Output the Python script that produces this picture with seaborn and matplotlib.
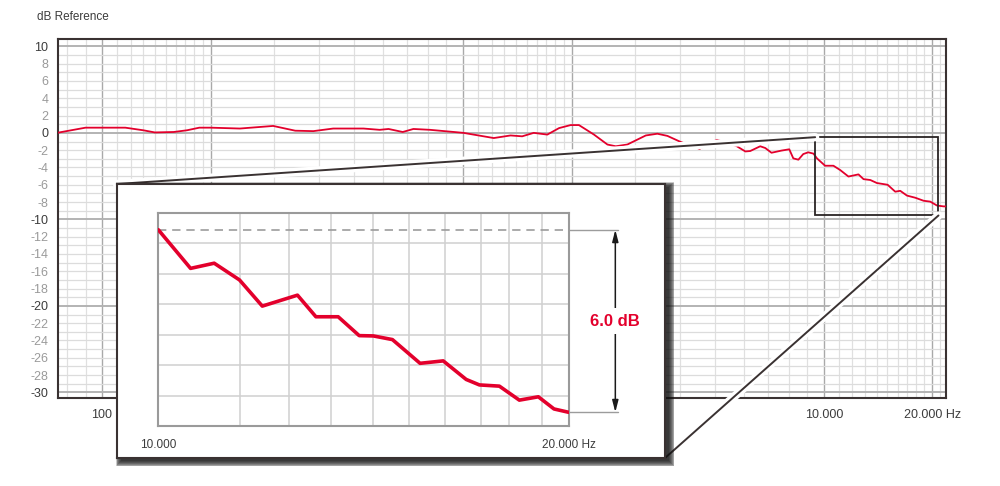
"""
Frequency response chart with a zoomed 10-20 kHz inset.
"""

import matplotlib
matplotlib.use("Agg")

import matplotlib.patheffects as pe
import matplotlib.pyplot as plt
import pandas as pd
import seaborn as sns
from matplotlib.patches import ConnectionPatch, Rectangle

RED = "#e3002c"
FRAME = "#3a3232"
DARK_TXT = "#3c3c3c"
LIGHT_TXT = "#9a9a9a"

# main response curve (Hz, dB)
main_hz = [75, 90, 100, 116, 130, 140, 158, 172, 186, 200, 241, 298, 343, 385, 437,
           530, 588, 622, 681, 729, 811, 1003, 1217, 1355, 1459, 1571, 1713, 1846,
           1988, 2096, 2307, 2514, 2651, 2854, 3211, 3457, 3685, 4011, 4524, 5054,
           5740, 6060, 6252, 6663, 6880, 7160, 7630, 8020, 8230, 8500, 8770, 9050,
           9360, 9570, 10080, 10630, 11100, 11700, 12470, 12880, 13450, 14030, 15020,
           15770, 16280, 16990, 17920, 18900, 19720, 20580, 21470, 21800]
main_db = [0.0, 0.6, 0.6, 0.6, 0.3, 0.05, 0.1, 0.3, 0.6, 0.6, 0.5, 0.8, 0.25, 0.2, 0.5,
           0.5, 0.35, 0.45, 0.1, 0.45, 0.35, 0.0, -0.6, -0.3, -0.4, 0.0, -0.2, 0.55,
           0.9, 0.9, -0.2, -1.35, -1.55, -1.35, -0.3, -0.1, -0.35, -1.05, -1.85, -0.8,
           -1.55, -2.15, -2.1, -1.55, -1.75, -2.3, -2.05, -1.9, -2.95, -3.1, -2.45, -2.25,
           -2.4, -2.95, -3.8, -3.8, -4.3, -5.05, -4.8, -5.35, -5.45, -5.8, -6.0,
           -6.8, -6.7, -7.25, -7.5, -7.85, -7.95, -8.4, -8.5, -8.5]

# zoomed 10-20 kHz detail (dB relative to inset top)
inset_hz = [10000, 10560, 10990, 11470, 11920, 12650, 13050, 13550, 14040, 14380,
            14850, 15560, 16180, 16820, 17200, 17790, 18400, 19000, 19510, 20000]
inset_db = [-0.55, -1.82, -1.65, -2.20, -3.06, -2.70, -3.41, -3.41, -4.03, -4.04,
            -4.16, -4.94, -4.86, -5.47, -5.65, -5.69, -6.15, -6.04, -6.44, -6.55]

# axes ticks / grid
y_ticks = list(range(-30, 11, 2))
y_grid = list(range(-30, 11))
x_major = [100, 200, 1000, 2000, 10000, 20000]
x_labels = {100: "100", 10000: "10.000", 20000: "20.000 Hz"}
x_minor = ([80, 90] + [110, 120, 130, 140, 150, 160, 170, 180, 190]
           + [300, 400, 500, 600, 700, 800, 900]
           + [1100, 1200, 1300, 1400, 1500, 1600, 1700, 1800, 1900]
           + [3000, 4000, 5000, 6000, 7000, 8000, 9000]
           + [11000, 12000, 13000, 14000, 15000, 16000, 17000, 18000, 19000, 21000])
inset_grid_hz = [11470, 12470, 13390, 14380, 15270, 16230, 17240, 18090, 19130]
inset_grid_db = [-1, -2, -3, -4, -5, -6]

zoom_box_hz = (9460, 20780)
zoom_box_db = (-9.55, -0.5)

W, H = 1000, 486

sns.set_style("white")
plt.rcParams["font.family"] = ["Liberation Sans", "DejaVu Sans"]


def fig_rect(left, top, right, bottom):
    """Pixel box -> figure fraction rect."""
    return [left / W, 1 - bottom / H, (right - left) / W, (bottom - top) / H]


fig = plt.figure(figsize=(W / 100, H / 100), dpi=100)

# ---------------- main chart ----------------
ax = fig.add_axes(fig_rect(58, 39, 946, 398), zorder=0)
ax.set_xscale("log")
ax.set_xlim(75.5, 21800)
ax.set_ylim(-30.65, 10.85)

for v in x_minor:
    ax.axvline(v, color="#e0e0e0", lw=0.9, zorder=0)
for v in x_major:
    ax.axvline(v, color="#a9a9a9", lw=1.0, zorder=0)
for v in y_grid:
    if v % 10 == 0:
        ax.axhline(v, color="#b3b3b3", lw=1.4, zorder=0)
    else:
        ax.axhline(v, color="#dcdcdc", lw=0.9, zorder=0)

main_df = pd.DataFrame({"hz": main_hz, "db": main_db})
sns.lineplot(data=main_df, x="hz", y="db", ax=ax, color=RED, lw=1.3, legend=False, zorder=3)

ax.set_xticks(x_major, [x_labels.get(v, "") for v in x_major])
ax.set_xticks([], minor=True)
ax.set_yticks(y_ticks, [str(v) for v in y_ticks])
for lbl, v in zip(ax.get_yticklabels(), y_ticks):
    lbl.set_color(DARK_TXT if v % 10 == 0 else LIGHT_TXT)
ax.tick_params(axis="both", length=0, labelsize=9)
ax.tick_params(axis="x", pad=8, labelcolor=DARK_TXT)
ax.tick_params(axis="y", pad=7)
ax.set_xlabel("")
ax.set_ylabel("")
for s in ax.spines.values():
    s.set_color(FRAME)
    s.set_linewidth(1.5)

ax.add_patch(Rectangle((zoom_box_hz[0], zoom_box_db[0]),
                       zoom_box_hz[1] - zoom_box_hz[0], zoom_box_db[1] - zoom_box_db[0],
                       fill=False, edgecolor="#2a2424", lw=1.3, zorder=4))

fig.text(37 / W, 1 - 17 / H, "dB Reference", ha="left", va="center",
         fontsize=8.5, color=DARK_TXT)

# ---------------- inset panel ----------------
panel_px = (117, 184, 665, 458)
panel = fig.add_axes(fig_rect(*panel_px), zorder=3)
panel.set_facecolor("white")
panel.set_xticks([])
panel.set_yticks([])
for s in panel.spines.values():
    s.set_color(FRAME)
    s.set_linewidth(1.5)

# soft drop shadow: dark near the panel edge, fading outwards
l, t, r, b = panel_px
for k in range(7):
    grow = k * 0.9
    fig.add_artist(Rectangle(((l + 4 - grow) / W, 1 - (b + 3 + grow) / H),
                             (r - l + 2 * grow) / W, (b - t + 2 * grow) / H,
                             transform=fig.transFigure, facecolor="#111111",
                             alpha=0.22, lw=0, zorder=2.8))

# connector lines with white halo
for xy_main, xy_panel in [((zoom_box_hz[0], zoom_box_db[1]), (0, 1)),
                          ((zoom_box_hz[1], zoom_box_db[0]), (1, 0))]:
    con = ConnectionPatch(xyA=xy_main, coordsA=ax.transData,
                          xyB=xy_panel, coordsB=panel.transAxes,
                          color=FRAME, lw=1.4, zorder=2.5)
    con.set_path_effects([pe.Stroke(linewidth=6, foreground="white"), pe.Normal()])
    fig.add_artist(con)

ax_in = fig.add_axes(fig_rect(158.3, 213, 568.7, 426), zorder=4)
ax_in.set_xscale("log")
ax_in.set_xlim(10000, 20000)
ax_in.set_ylim(-7, 0)
for v in inset_grid_hz:
    ax_in.axvline(v, color="#d0d0d0", lw=1.1, zorder=0)
for v in inset_grid_db:
    ax_in.axhline(v, color="#d0d0d0", lw=1.1, zorder=0)

inset_df = pd.DataFrame({"hz": inset_hz, "db": inset_db})
sns.lineplot(data=inset_df, x="hz", y="db", ax=ax_in, color=RED, lw=2.6,
             legend=False, zorder=3)

start_db, end_db = inset_db[0], inset_db[-1]
ax_in.axhline(start_db, color="#9c9c9c", lw=1.2, dashes=(5, 3.5), zorder=2)
ytr = ax_in.get_yaxis_transform()
ax_in.plot([1.0, 1.12], [start_db, start_db], transform=ytr, color="#9c9c9c",
           lw=1.0, clip_on=False)
ax_in.plot([1.0, 1.12], [end_db, end_db], transform=ytr, color="#9c9c9c",
           lw=1.0, clip_on=False)
ax_in.annotate("", xy=(1.1136, start_db), xytext=(1.1136, end_db),
               xycoords=ytr, textcoords=ytr,
               arrowprops=dict(arrowstyle="<|-|>,head_length=0.7,head_width=0.18",
                               color="#1a1a1a", lw=1.1, shrinkA=0, shrinkB=0))
ax_in.text(1.1136, (start_db + end_db) / 2, f"{start_db - end_db:.1f} dB",
           transform=ytr, ha="center", va="center", color=RED, fontsize=12,
           fontweight="bold", clip_on=False,
           bbox=dict(facecolor="white", edgecolor="none", pad=4))

ax_in.set_xticks([10000, 20000], ["10.000", "20.000 Hz"])
ax_in.set_xticks([], minor=True)
ax_in.set_yticks([])
ax_in.tick_params(axis="x", length=0, pad=9, labelsize=8.5, labelcolor=DARK_TXT)
ax_in.set_xlabel("")
ax_in.set_ylabel("")
for s in ax_in.spines.values():
    s.set_color("#9a9a9a")
    s.set_linewidth(1.5)

fig.savefig("out.png", dpi=100)
plt.close(fig)
